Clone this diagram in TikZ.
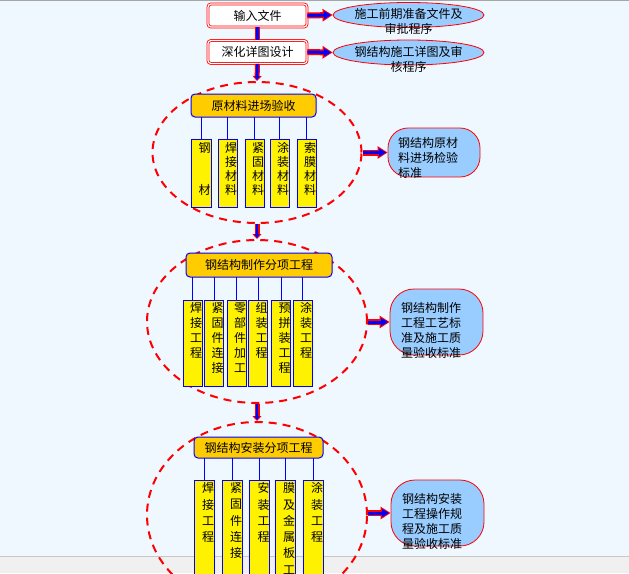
\documentclass[tikz,border=0pt]{standalone}
\usepackage{fontspec}
\usetikzlibrary{arrows.meta,shapes.geometric}
\newfontfamily\cjk{Noto Sans CJK SC}
\definecolor{bg}{HTML}{F0F8FF}
\definecolor{lblue}{HTML}{99CCFF}
\definecolor{hdr}{HTML}{FFCC00}
\definecolor{band}{HTML}{F0F0F0}
\newcommand\fatarrow[3]{\draw[#1R] #2 -- #3; \draw[#1B] #2 -- #3;}
\begin{document}
\begin{tikzpicture}[x=1pt,y=-1pt,
  inbox/.style={draw=red, double=white, double distance=1.2pt, line width=0.8pt, fill=white, rounded corners=3pt, minimum width=99pt, minimum height=23pt, inner sep=0pt, font=\cjk\fontsize{12}{14}\selectfont},
  rell/.style={ellipse, draw=red, fill=lblue, line width=0.8pt, minimum width=151pt, minimum height=25pt, inner sep=0pt},
  ctext/.style={font=\cjk\fontsize{12}{15}\selectfont, align=center, inner sep=0pt},
  ltext/.style={font=\cjk\fontsize{12}{15}\selectfont, align=left, inner sep=0pt, anchor=west},
  dell/.style={ellipse, draw=red, dash pattern=on 8pt off 6pt, line width=2pt, inner sep=0pt},
  rbox/.style={draw=red, fill=lblue, rounded corners=#1, line width=0.8pt, inner sep=0pt},
  hbox/.style={draw=blue, fill=hdr, rounded corners=4pt, line width=1pt, inner sep=0pt, font=\cjk\fontsize{12}{14}\selectfont},
  sbox/.style={draw=blue, fill=yellow, line width=1pt, inner sep=0pt, anchor=north},
  vtext/.style={font=\cjk\fontsize{12}{#1}\selectfont, align=center, inner sep=0pt, anchor=north},
  link/.style={draw=blue, line width=1pt},
  hR/.style={draw=red, line width=6pt, -{Triangle[length=10pt,width=12pt]}},
  hB/.style={draw=blue, line width=3pt, shorten >=1.5pt, -{Triangle[length=7pt,width=7.5pt]}},
  vR/.style={draw=red, line width=5pt, -{Triangle[length=5pt,width=9pt]}},
  vB/.style={draw=blue, line width=2.5pt, shorten >=1pt, -{Triangle[length=4pt,width=5pt]}},
  pR/.style={draw=red, line width=5pt},
  pB/.style={draw=blue, line width=2.5pt}
]
\useasboundingbox (0,0) rectangle (629,573);
\clip (0,0) rectangle (629,573);
\fill[bg] (0,0) rectangle (629,556);
\fill[band] (0,556) rectangle (629,573);
\draw[black!22, line width=1pt] (0,556) -- (629,556);
\draw[black!35, line width=1.5pt] (0,0.5) -- (629,0.5);

% top boxes
\node[inbox] (b1) at (257.5,15.5) {输入文件};
\node[inbox] (b2) at (257.5,52) {深化详图设计};
\node[rell] (e1) at (408.5,15) {};
\node[ctext] at (408.5,21.5) {施工前期准备文件及\\审批程序};
\node[rell] (e2) at (408.5,52.5) {};
\node[ctext] at (408.5,59.5) {钢结构施工详图及审\\核程序};

% dashed ellipses
\node[dell, minimum width=209pt, minimum height=141pt] (d1) at (257,152.5) {};
\node[dell, minimum width=220pt, minimum height=163pt] (d2) at (257,321.5) {};
\node[dell, minimum width=220pt, minimum height=186pt] (d3) at (257,515) {};

% right boxes
\node[rbox=20pt, minimum width=92pt, minimum height=49pt] (r1) at (434,152.5) {};
\node[ltext] at (398,158) {钢结构原材\\料进场检验\\标准};
\node[rbox=24pt, minimum width=93pt, minimum height=66pt] (r2) at (436.5,322) {};
\node[ltext] at (401,330) {钢结构制作\\工程工艺标\\准及施工质\\量验收标准};
\node[rbox=24pt, minimum width=93pt, minimum height=66pt] (r3) at (437.5,513) {};
\node[ltext] at (402,521) {钢结构安装\\工程操作规\\程及施工质\\量验收标准};

% headers
\node[hbox, minimum width=125pt, minimum height=23pt] (h1) at (253.5,105.5) {原材料进场验收};
\node[hbox, minimum width=146pt, minimum height=24pt] (h2) at (259,265) {钢结构制作分项工程};
\node[hbox, minimum width=129pt, minimum height=21pt] (h3) at (258.5,447.5) {钢结构安装分项工程};

% column 1
\foreach \n/\x/\w/\t in {a1/201/20/{钢\\~\\~\\材}, a2/227.5/19/{焊\\接\\材\\料}, a3/254.5/19/{紧\\固\\材\\料}, a4/279.5/19/{涂\\装\\材\\料}, a5/306.5/19/{索\\膜\\材\\料}}{
  \draw[link] (\x,139) -- (\x,117);
  \node[sbox, minimum width=\w pt, minimum height=68pt] (\n) at (\x,139) {};
  \node[vtext=14] at ([xshift=3.5pt,yshift=-3pt]\n.north) {\t};
}
% column 2
\foreach \n/\x/\t in {c1/192.5/{焊\\接\\工\\程}, c2/214/{紧\\固\\件\\连\\接}, c3/236.5/{零\\部\\件\\加\\工}, c4/258/{组\\装\\工\\程}, c5/281/{预\\拼\\装\\工\\程}, c6/302.5/{涂\\装\\工\\程}}{
  \draw[link] (\x,300) -- (\x,277);
  \node[sbox, minimum width=19pt, minimum height=86pt] (\n) at (\x,300) {};
  \node[vtext=15] at ([xshift=3.5pt,yshift=-2.5pt]\n.north) {\t};
}
% column 3
\foreach \n/\x/\t in {g1/204/{焊\\接\\工\\程}, g2/232/{紧\\固\\件\\连\\接}, g3/259.5/{安\\装\\工\\程}, g4/285/{膜\\及\\金\\属\\板\\工\\程}, g5/313/{涂\\装\\工\\程}}{
  \draw[link] (\x,480) -- (\x,458);
  \node[sbox, minimum width=20pt, minimum height=110pt] (\n) at (\x,480) {};
  \node[vtext=16.3] at ([xshift=4pt,yshift=-2.5pt]\n.north) {\t};
}

% fat arrows
\fatarrow{p}{(b1.south)}{(b2.north)}
\fatarrow{v}{(b2.south)}{(d1.north)}
\fatarrow{v}{(d1.south)}{(d2.north)}
\fatarrow{v}{(d2.south)}{(d3.north)}
\fatarrow{h}{(b1.east)}{(e1.west)}
\fatarrow{h}{(b2.east)}{(e2.west)}
\fatarrow{h}{(d1.east |- r1.west)}{(r1.west)}
\fatarrow{h}{(d2.east |- r2.west)}{(r2.west)}
\fatarrow{h}{(d3.east |- r3.west)}{(r3.west)}
\end{tikzpicture}
\end{document}
